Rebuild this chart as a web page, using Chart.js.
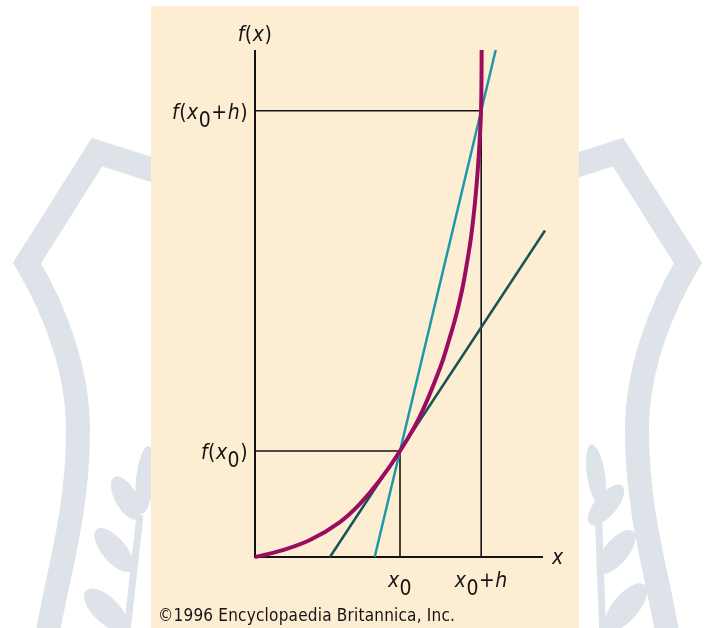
<!DOCTYPE html>
<html><head><meta charset="utf-8">
<script src="https://cdn.jsdelivr.net/npm/chart.js@4.4.0/dist/chart.umd.min.js"></script>
<style>html,body{margin:0;padding:0;background:#fff;}#wrap{width:715px;height:628px;position:relative;}</style>
</head><body><div id="wrap"><canvas id="c"></canvas></div>
<script>
// ---- data ----
const curveX = [0, 0.172, 0.379, 0.586, 0.724, 0.862, 1.0, 1.138, 1.276, 1.338, 1.386, 1.428, 1.462, 1.490, 1.514, 1.531, 1.545, 1.554, 1.559, 1.562, 1.563];
const curveY = [0, 0.057, 0.160, 0.330, 0.502, 0.726, 1.0, 1.330, 1.783, 2.047, 2.274, 2.519, 2.774, 3.019, 3.302, 3.557, 3.821, 4.047, 4.217, 4.500, 4.783];
const secantX = [0.8255, 1.66];
const secantY = [0, 4.783];
const tangentX = [0.517, 2.0];
const tangentY = [0, 3.08];
const axisXEnd = 1.986;
const axisYTop = 4.783;
const x0 = 1.0, fx0 = 1.0, x0h = 1.56, fx0h = 4.21;
const xTickLabels = ['x_0', 'x_0+h'];
const yTickLabels = ['f(x_0)', 'f(x_0+h)'];
const axisTitles = ['x', 'f(x)'];
const credit = '\u00A91996 Encyclopaedia Britannica, Inc.';

function pts(xs, ys) { return xs.map((v, i) => ({ x: v, y: ys[i] })); }

const FAM = '"DejaVu Sans Condensed", "DejaVu Sans", sans-serif';
const INK = '#141414';

function setFont(ctx, ch, size) {
  const ital = /[a-z]/.test(ch) ? 'italic ' : '';
  ctx.font = ital + size + 'px ' + FAM;
  try { ctx.fontStretch = 'condensed'; } catch (e) {}
}

function drawMath(ctx, str, x, y, align) {
  const parts = [];
  for (let i = 0; i < str.length; i++) {
    if (str[i] === '_' && i + 1 < str.length) { parts.push([str[i + 1], true]); i++; }
    else parts.push([str[i], false]);
  }
  const size = 21;
  ctx.letterSpacing = '0.5px';
  let w = 0;
  const widths = parts.map(p => { setFont(ctx, p[0], size); const m = ctx.measureText(p[0]).width; w += m; return m; });
  let sx = x;
  if (align === 'right') sx = x - w;
  else if (align === 'center') sx = x - w / 2;
  ctx.textAlign = 'left';
  ctx.textBaseline = 'alphabetic';
  ctx.fillStyle = INK;
  parts.forEach((p, i) => {
    setFont(ctx, p[0], size);
    ctx.fillText(p[0], sx, y + (p[1] ? 8 : 0));
    sx += widths[i];
  });
}

const backdrop = {
  id: 'backdrop',
  beforeDraw(chart) {
    const ctx = chart.ctx;
    const W = chart.width, H = chart.height;
    ctx.save();
    ctx.fillStyle = '#ffffff';
    ctx.fillRect(0, 0, W, H);
    ctx.strokeStyle = '#dde3e8';
    ctx.fillStyle = '#dde3e8';
    ctx.lineWidth = 24;
    ctx.lineJoin = 'miter';
    [false, true].forEach(mir => {
      const X = v => mir ? W - v : v;
      ctx.beginPath();
      ctx.moveTo(X(190), 182);
      ctx.lineTo(X(97), 152);
      ctx.lineTo(X(27), 263);
      ctx.bezierCurveTo(X(55), 310, X(78), 370, X(78), 430);
      ctx.bezierCurveTo(X(78), 520, X(55), 580, X(45), 650);
      ctx.stroke();
    });
    const leaf = (cx, cy, rx, ry, rot) => { ctx.beginPath(); ctx.ellipse(cx, cy, rx, ry, rot, 0, Math.PI * 2); ctx.fill(); };
    leaf(145, 480, 9, 34, 0.1);
    leaf(126, 498, 11, 24, -0.5);
    leaf(114, 550, 12, 27, -0.7);
    leaf(106, 610, 13, 28, -0.8);
    leaf(596, 475, 9, 31, -0.15);
    leaf(606, 505, 11, 25, 0.7);
    leaf(616, 552, 12, 27, 0.7);
    leaf(626, 607, 13, 29, 0.7);
    ctx.lineWidth = 7;
    ctx.beginPath(); ctx.moveTo(140, 515); ctx.lineTo(126, 640); ctx.stroke();
    ctx.beginPath(); ctx.moveTo(598, 505); ctx.lineTo(603, 640); ctx.stroke();
    ctx.fillStyle = '#fdeed3';
    ctx.fillRect(151, 6, 428, H - 6);
    ctx.restore();
  }
};

const labels = {
  id: 'labels',
  afterDatasetsDraw(chart) {
    const ctx = chart.ctx;
    const xs = chart.scales.x, ys = chart.scales.y;
    ctx.save();
    const ox = xs.getPixelForValue(0), oy = ys.getPixelForValue(0);
    drawMath(ctx, axisTitles[1], ox, ys.getPixelForValue(axisYTop) - 9, 'center');
    drawMath(ctx, axisTitles[0], xs.getPixelForValue(axisXEnd) + 9, oy + 7, 'left');
    drawMath(ctx, yTickLabels[0], ox - 7, ys.getPixelForValue(fx0) + 8, 'right');
    drawMath(ctx, yTickLabels[1], ox - 7, ys.getPixelForValue(fx0h) + 8, 'right');
    drawMath(ctx, xTickLabels[0], xs.getPixelForValue(x0), oy + 30, 'center');
    drawMath(ctx, xTickLabels[1], xs.getPixelForValue(x0h), oy + 30, 'center');
    ctx.font = '17px ' + FAM;
    try { ctx.fontStretch = 'condensed'; } catch (e) {}
    ctx.letterSpacing = '0px';
    const w = ctx.measureText(credit).width;
    const sp = (297 - w) / (credit.length - 1);
    ctx.letterSpacing = sp.toFixed(2) + 'px';
    ctx.fillStyle = INK;
    ctx.textAlign = 'left';
    ctx.fillText(credit, 158, 621);
    ctx.restore();
  }
};

const common = { showLine: true, pointRadius: 0, tension: 0, clip: false, fill: false };

new Chart(document.getElementById('c'), {
  type: 'scatter',
  data: {
    datasets: [
      Object.assign({ label: 'f(x)', data: pts(curveX, curveY), borderColor: '#9a0c5e', borderWidth: 4, order: 0 }, common, { tension: 0.4 }),
      Object.assign({ label: 'secant', data: pts(secantX, secantY), borderColor: '#1f97a8', borderWidth: 2.5, order: 1 }, common),
      Object.assign({ label: 'tangent', data: pts(tangentX, tangentY), borderColor: '#17545a', borderWidth: 2.5, order: 2 }, common),
      Object.assign({ label: 'axes', data: [{ x: 0, y: axisYTop }, { x: 0, y: 0 }, { x: axisXEnd, y: 0 }], borderColor: INK, borderWidth: 2, order: 3 }, common),
      Object.assign({ label: 'guide x0', data: [{ x: 0, y: fx0 }, { x: x0, y: fx0 }, { x: x0, y: 0 }], borderColor: INK, borderWidth: 1.6, order: 4 }, common),
      Object.assign({ label: 'guide x0+h', data: [{ x: 0, y: fx0h }, { x: x0h, y: fx0h }, { x: x0h, y: 0 }], borderColor: INK, borderWidth: 1.6, order: 5 }, common)
    ]
  },
  options: {
    animation: false,
    responsive: true,
    maintainAspectRatio: false,
    layout: { padding: { left: 255, right: 170, top: 50, bottom: 71 } },
    scales: {
      x: { type: 'linear', min: 0, max: 2.0, display: false },
      y: { type: 'linear', min: 0, max: axisYTop, display: false }
    },
    plugins: { legend: { display: false }, tooltip: { enabled: false } },
    elements: { point: { radius: 0 } }
  },
  plugins: [backdrop, labels]
});
</script>
</body></html>
